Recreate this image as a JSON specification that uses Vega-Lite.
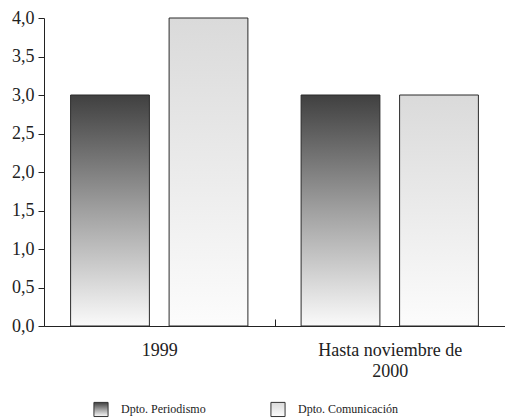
{
  "$schema": "https://vega.github.io/schema/vega-lite/v6.json",
  "autosize": {"type": "none"},
  "padding": {"left": 44, "top": 18, "right": 0, "bottom": 93},
  "width": 461,
  "height": 308,
  "background": "white",
  "config": {
    "font": "Liberation Serif",
    "view": {"stroke": null}
  },
  "data": {
    "values": [
      {"periodo": "1999", "dpto": "Dpto. Periodismo", "valor": 3},
      {"periodo": "1999", "dpto": "Dpto. Comunicación", "valor": 4},
      {"periodo": "Hasta noviembre de 2000", "dpto": "Dpto. Periodismo", "valor": 3},
      {"periodo": "Hasta noviembre de 2000", "dpto": "Dpto. Comunicación", "valor": 3}
    ]
  },
  "mark": {"type": "bar", "stroke": "#2a2a2a", "strokeWidth": 1},
  "encoding": {
    "x": {
      "field": "periodo",
      "type": "nominal",
      "sort": null,
      "scale": {"paddingInner": 0, "paddingOuter": 0},
      "axis": {
        "title": null,
        "labelAngle": 0,
        "labelFont": "Liberation Serif",
        "labelFontSize": 18,
        "labelColor": "#222222",
        "labelPadding": 22,
        "labelLineHeight": 21,
        "tickBand": "extent",
        "tickSize": -7,
        "tickColor": "#222222",
        "domainColor": "#222222",
        "labelExpr": "datum.label == 'Hasta noviembre de 2000' ? ['Hasta noviembre de', '2000'] : datum.label"
      }
    },
    "xOffset": {
      "field": "dpto",
      "type": "nominal",
      "scale": {"domain": ["Dpto. Periodismo", "Dpto. Comunicación"], "paddingInner": 0.2, "paddingOuter": 0.27}
    },
    "y": {
      "field": "valor",
      "type": "quantitative",
      "scale": {"domain": [0, 4]},
      "axis": {
        "title": null,
        "values": [0, 0.5, 1, 1.5, 2, 2.5, 3, 3.5, 4],
        "format": ".1f",
        "labelExpr": "replace(datum.label, '.', ',')",
        "labelFont": "Liberation Serif",
        "labelFontSize": 18,
        "labelColor": "#222222",
        "labelPadding": 4,
        "tickSize": 6,
        "tickColor": "#222222",
        "domainColor": "#222222",
        "grid": false
      }
    },
    "color": {
      "field": "dpto",
      "type": "nominal",
      "scale": {
        "domain": ["Dpto. Periodismo", "Dpto. Comunicación"],
        "range": [
          {"expr": "{gradient: 'linear', x1: 0, y1: 0, x2: 0, y2: 1, stops: [{offset: 0, color: '#404040'}, {offset: 0.5, color: '#a0a0a0'}, {offset: 1, color: '#fafafa'}]}"},
          {"expr": "{gradient: 'linear', x1: 0, y1: 0, x2: 0, y2: 1, stops: [{offset: 0, color: '#dadada'}, {offset: 1, color: '#fcfcfc'}]}"}
        ]
      },
      "legend": {
        "title": null,
        "orient": "none",
        "legendX": 49,
        "legendY": 383,
        "direction": "horizontal",
        "symbolType": "square",
        "symbolSize": 200,
        "symbolStrokeColor": "#333333",
        "symbolStrokeWidth": 1,
        "labelFont": "Liberation Serif",
        "labelFontSize": 12,
        "labelColor": "#222222",
        "columnPadding": 62,
        "labelOffset": 12
      }
    }
  }
}
